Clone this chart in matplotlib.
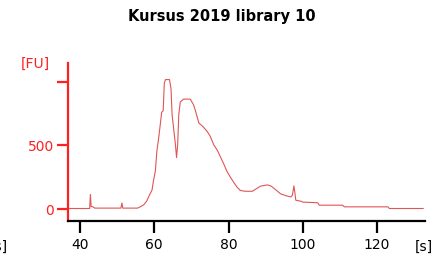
import matplotlib
matplotlib.use("Agg")
import matplotlib.pyplot as plt

# electropherogram trace
time_s = [36.8, 42.6, 42.8, 43.0, 43.5, 44.0, 51.0, 51.3, 51.5, 55.5,
          56.2, 57.2, 58.0, 58.7, 59.4, 59.8, 60.3, 60.7, 61.2, 61.6,
          62.0, 62.4, 62.7, 63.0, 64.1, 64.5, 64.8, 65.2, 65.7, 66.0,
          66.3, 66.6, 67.0, 67.9, 69.7, 70.6, 71.2, 72.0, 73.0, 74.2,
          75.0, 76.0, 77.0, 78.7, 79.5, 80.5, 81.5, 82.3, 83.2, 84.5,
          86.4, 87.5, 88.6, 90.5, 91.5, 92.7, 94.0, 95.5, 96.8, 97.2,
          97.6, 97.9, 98.1, 99.5, 100.0, 104.0, 104.4, 110.7, 111.2, 122.9,
          123.3, 132.4]
fu = [5, 5, 115, 20, 18, 8, 8, 48, 8, 8,
      18, 35, 65, 110, 150, 225, 300, 455, 560, 660,
      760, 770, 985, 1015, 1015, 945, 740, 635, 505, 404,
      505, 740, 840, 862, 862, 816, 760, 675, 650, 610,
      575, 505, 460, 355, 300, 250, 205, 172, 146, 140,
      140, 160, 180, 190, 180, 152, 120, 105, 95, 110,
      182, 120, 70, 62, 55, 50, 31, 31, 18, 18,
      5, 5]

xticks = [40, 60, 80, 100, 120]
yticks = [0, 500, 1000]
ytick_labels = ["0", "500", ""]
title = "Kursus 2019 library 10"

fig = plt.figure(figsize=(4.39, 2.60), dpi=100)
ax = fig.add_axes([68/439, 1 - 221/260, (425 - 68)/439, (221 - 63)/260])

ax.plot(time_s, fu, color="#e05555", lw=0.8)
ax.set_xlim(36.77, 132.9)
ax.set_ylim(-93, 1145)

for s in ("top", "right"):
    ax.spines[s].set_visible(False)
ax.spines["left"].set_color("#ff2020")
ax.spines["left"].set_linewidth(1.6)
ax.spines["bottom"].set_color("black")
ax.spines["bottom"].set_linewidth(1.6)

ax.set_xticks(xticks)
ax.set_yticks(yticks)
ax.set_yticklabels(ytick_labels)
ax.tick_params(axis="y", colors="#ff2020", length=8, width=1.6, labelsize=10, pad=2)
ax.tick_params(axis="x", colors="black", length=8.5, width=1.6, labelsize=10, pad=4)

fig.text(222/439, 1 - 17/260, title, ha="center", va="center",
         fontsize=10.5, fontweight="bold")
fig.text(35/439, 1 - 64/260, "[FU]", ha="center", va="center",
         fontsize=10, color="#ff2020")
fig.text(424/439, 1 - 247/260, "[s]", ha="center", va="center", fontsize=10)
fig.text(8/439, 1 - 247/260, "[s]", ha="right", va="center", fontsize=10)

fig.savefig("out.png", dpi=100)
